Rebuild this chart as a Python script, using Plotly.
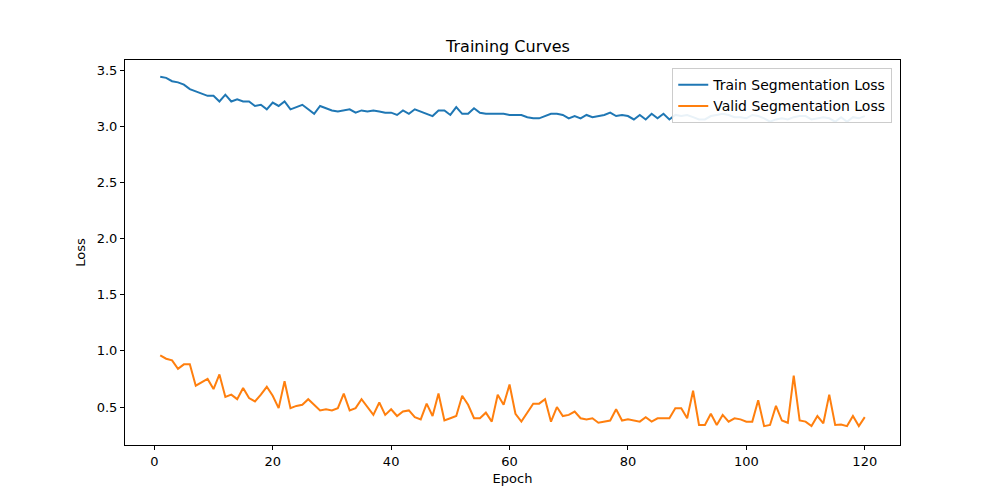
import plotly.graph_objects as go

epochs = list(range(1, 121))

train_loss = [
    3.44, 3.43, 3.40, 3.39, 3.37, 3.33, 3.31, 3.29, 3.27, 3.27,
    3.22, 3.28, 3.22, 3.24, 3.22, 3.22, 3.18, 3.19, 3.15, 3.21,
    3.18, 3.22, 3.15, 3.17, 3.19, 3.15, 3.11, 3.18, 3.16, 3.14,
    3.13, 3.14, 3.15, 3.12, 3.14, 3.13, 3.14, 3.13, 3.12, 3.12,
    3.10, 3.14, 3.11, 3.15, 3.13, 3.11, 3.09, 3.14, 3.14, 3.10,
    3.17, 3.11, 3.11, 3.16, 3.12, 3.11, 3.11, 3.11, 3.11, 3.10,
    3.10, 3.10, 3.08, 3.07, 3.07, 3.09, 3.11, 3.11, 3.10, 3.07,
    3.09, 3.07, 3.10, 3.08, 3.09, 3.10, 3.12, 3.09, 3.10, 3.09,
    3.06, 3.10, 3.06, 3.11, 3.07, 3.11, 3.06, 3.10, 3.09, 3.10,
    3.08, 3.06, 3.06, 3.09, 3.10, 3.11, 3.10, 3.08, 3.08, 3.07,
    3.10, 3.09, 3.07, 3.04, 3.06, 3.07, 3.06, 3.08, 3.09, 3.09,
    3.06, 3.07, 3.08, 3.07, 3.04, 3.08, 3.04, 3.08, 3.07, 3.09,
]

valid_loss = [
    0.96, 0.93, 0.915, 0.84, 0.88, 0.88, 0.69, 0.72, 0.75, 0.66,
    0.79, 0.59, 0.61, 0.57, 0.67, 0.58, 0.55, 0.61, 0.68, 0.60,
    0.49, 0.73, 0.49, 0.51, 0.52, 0.57, 0.52, 0.47, 0.48, 0.47,
    0.49, 0.62, 0.47, 0.49, 0.57, 0.50, 0.43, 0.54, 0.43, 0.48,
    0.42, 0.46, 0.47, 0.41, 0.39, 0.53, 0.42, 0.62, 0.38, 0.40,
    0.42, 0.60, 0.52, 0.40, 0.40, 0.45, 0.37, 0.61, 0.52, 0.70,
    0.44, 0.37, 0.45, 0.53, 0.53, 0.57, 0.37, 0.50, 0.42, 0.43,
    0.46, 0.40, 0.39, 0.40, 0.36, 0.37, 0.38, 0.48, 0.38, 0.39,
    0.38, 0.37, 0.41, 0.37, 0.40, 0.40, 0.40, 0.49, 0.49, 0.40,
    0.645, 0.34, 0.34, 0.44, 0.34, 0.43, 0.37, 0.40, 0.39, 0.37,
    0.37, 0.56, 0.33, 0.34, 0.51, 0.38, 0.36, 0.78, 0.38, 0.37,
    0.33, 0.42, 0.355, 0.61, 0.34, 0.345, 0.33, 0.42, 0.33, 0.41,
]

fig = go.Figure()
fig.add_trace(go.Scatter(x=epochs, y=train_loss, mode='lines',
                         name='Train Segmentation Loss',
                         line=dict(color='#1f77b4', width=2)))
fig.add_trace(go.Scatter(x=epochs, y=valid_loss, mode='lines',
                         name='Valid Segmentation Loss',
                         line=dict(color='#ff7f0e', width=2)))

axis_style = dict(showgrid=False, zeroline=False, showline=True, mirror=True,
                  linecolor='black', linewidth=1, ticks='outside', ticklen=4,
                  tickcolor='black', tickfont=dict(size=13, color='black'))

fig.update_layout(
    width=1000, height=500,
    paper_bgcolor='white', plot_bgcolor='white',
    font=dict(family='DejaVu Sans', color='black'),
    margin=dict(l=117, r=108, t=52, b=63),
    title=dict(text='Training Curves', x=0.5, xanchor='center',
               y=0.924, yanchor='middle', font=dict(size=16)),
    xaxis=dict(title=dict(text='Epoch', font=dict(size=13), standoff=6),
               range=[-4.95, 125.95], tickvals=[0, 20, 40, 60, 80, 100, 120],
               **axis_style),
    yaxis=dict(title=dict(text='Loss', font=dict(size=13), standoff=8),
               range=[0.162, 3.589], tickvals=[0.5, 1.0, 1.5, 2.0, 2.5, 3.0, 3.5],
               tickformat='.1f', **axis_style),
    legend=dict(x=0.99, y=0.979, xanchor='right', yanchor='top',
                bgcolor='rgba(255,255,255,0.9)', bordercolor='#cccccc',
                borderwidth=1, font=dict(size=14)),
    showlegend=True,
)

fig.write_html("out.html")
